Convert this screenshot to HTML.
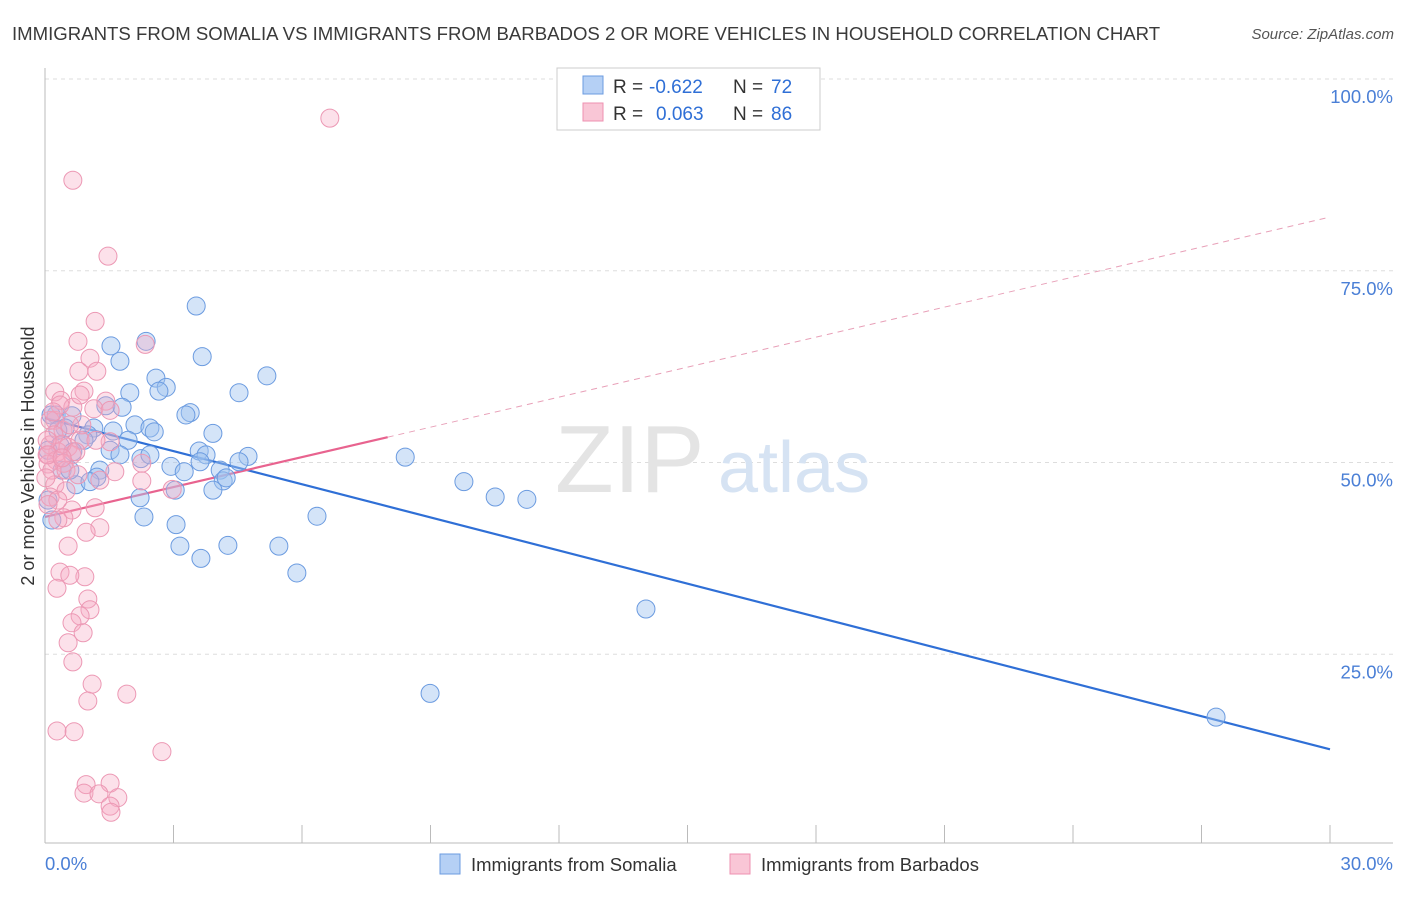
<!DOCTYPE html>
<html><head><meta charset="utf-8">
<style>
body{margin:0;background:#fff;font-family:"Liberation Sans",sans-serif;}
svg text{font-family:"Liberation Sans",sans-serif;}
</style></head>
<body>
<svg id="chart" width="1406" height="892" viewBox="0 0 1406 892" xmlns="http://www.w3.org/2000/svg">
<text x="12" y="40" font-size="18.6" fill="#3a3a3a">IMMIGRANTS FROM SOMALIA VS IMMIGRANTS FROM BARBADOS 2 OR MORE VEHICLES IN HOUSEHOLD CORRELATION CHART</text>
<text x="1394" y="39" font-size="15" fill="#555" font-style="italic" text-anchor="end">Source: ZipAtlas.com</text>
<g id="grid"></g>
<text x="555" y="492" font-size="96" fill="#e4e4e4" font-family="Liberation Serif" >ZIP</text>
<text x="718" y="492" font-size="72" fill="#d6e3f3">atlas</text>
<g id="axes"></g>
<g id="lines"></g>
<g id="pts"></g>
<text transform="translate(34,456) rotate(-90)" font-size="18" fill="#333" text-anchor="middle">2 or more Vehicles in Household</text>
<g>
<rect x="557" y="68" width="263" height="62" fill="#fff" stroke="#ccc"/>
<rect x="583" y="76" width="20" height="18" fill="#b5d0f5" stroke="#6b9be0"/>
<rect x="583" y="103" width="20" height="18" fill="#f9c6d6" stroke="#ee90b0"/>
<text x="613" y="93" font-size="19" fill="#333">R =</text>
<text x="649" y="93" font-size="19" fill="#2f6fd6">-0.622</text>
<text x="733" y="93" font-size="19" fill="#333">N =</text>
<text x="771" y="93" font-size="19" fill="#2f6fd6">72</text>
<text x="613" y="120" font-size="19" fill="#333">R =</text>
<text x="656" y="120" font-size="19" fill="#2f6fd6">0.063</text>
<text x="733" y="120" font-size="19" fill="#333">N =</text>
<text x="771" y="120" font-size="19" fill="#2f6fd6">86</text>
</g>
<g>
<rect x="440" y="854" width="20" height="20" fill="#b5d0f5" stroke="#6b9be0"/>
<text x="471" y="871" font-size="18.5" fill="#333">Immigrants from Somalia</text>
<rect x="730" y="854" width="20" height="20" fill="#f9c6d6" stroke="#ee90b0"/>
<text x="761" y="871" font-size="18.5" fill="#333">Immigrants from Barbados</text>
</g>
</svg>
<script>
const yTicks=[25,50,75,100];
const yTickLabels=["25.0%","50.0%","75.0%","100.0%"];
const xTicks=[0,3,6,9,12,15,18,21,24,27,30];
const somaliaX=[3.53,1.54,2.36,1.75,3.67,2.59,2.83,2.66,1.98,4.53,5.18,1.42,1.80,0.26,0.63,3.39,3.29,2.10,2.45,2.55,1.59,1.14,0.47,1.00,1.94,3.92,3.60,3.76,2.24,2.94,3.25,4.09,4.74,4.53,1.28,1.21,4.16,3.92,3.04,2.22,2.31,3.06,3.15,3.64,4.27,5.46,5.88,6.35,8.41,9.78,10.51,11.25,14.03,8.99,27.34,0.35,0.07,0.72,0.91,0.07,0.16,0.40,0.65,1.52,0.14,0.58,1.05,3.62,0.30,1.75,4.23,2.45];
const somaliaY=[70.4,65.2,65.8,63.2,63.8,61.0,59.8,59.3,59.1,59.1,61.3,57.4,57.2,56.2,56.1,56.5,56.2,54.9,54.5,54.0,54.1,54.5,54.5,53.6,52.9,53.8,51.5,51.0,50.5,49.5,48.8,49.0,50.8,50.1,49.0,48.1,47.6,46.4,46.4,45.4,42.9,41.9,39.1,37.5,39.2,39.1,35.6,43.0,50.7,47.5,45.5,45.2,30.9,19.9,16.8,52.2,51.6,47.1,52.9,45.1,42.5,49.0,51.4,51.6,56.2,49.0,47.5,50.1,54.2,51.0,48.0,51.0];
const barbadosX=[6.65,0.65,1.47,1.17,0.77,2.34,1.05,1.21,0.79,0.91,0.23,0.37,1.42,0.65,1.14,0.23,0.42,0.82,1.52,0.12,0.54,0.30,0.05,0.63,0.26,0.07,0.44,2.26,1.63,2.26,2.97,1.28,0.23,0.49,0.12,0.63,1.17,0.44,1.28,0.96,0.54,0.35,0.93,0.58,0.28,1.00,1.05,0.82,0.63,0.89,0.54,0.65,1.10,1.00,1.91,0.28,0.68,2.73,0.96,1.52,0.91,1.26,1.70,1.52,1.54,0.35,0.12,0.21,0.40,0.72,0.16,0.02,0.30,0.82,0.05,0.49,0.86,0.19,0.07,0.40,0.77,1.19,0.30,0.07,1.52,0.58];
const barbadosY=[94.9,86.8,76.9,68.4,65.8,65.4,63.6,61.9,61.9,59.3,59.2,58.1,58.0,57.2,57.0,55.5,54.2,52.9,52.7,52.3,52.0,51.4,51.0,51.0,50.3,49.8,49.9,49.9,48.8,47.6,46.5,47.7,47.1,46.3,45.5,43.8,44.1,42.8,41.5,40.9,39.1,35.7,35.1,35.3,33.6,32.2,30.8,30.0,29.1,27.8,26.5,24.0,21.1,18.9,19.8,15.0,14.9,12.3,8.0,8.2,6.9,6.8,6.3,5.2,4.4,57.5,55.5,53.6,52.4,51.4,49.0,48.0,45.1,58.8,52.9,49.0,54.9,56.6,51.0,50.6,48.4,52.9,42.5,44.5,56.8,54.9];
const somaliaTrend=[55.8,12.6];
const barbadosTrend=[42.9,53.3,82.0];
const barbadosSolidEnd=8.0;

const NS="http://www.w3.org/2000/svg";
const X=v=>45+v/30*1285;
const Y=v=>846-v/100*767;
function mk(tag,attrs,parent){const e=document.createElementNS(NS,tag);for(const k in attrs)e.setAttribute(k,attrs[k]);parent.appendChild(e);return e;}
const grid=document.getElementById('grid'),axes=document.getElementById('axes'),lines=document.getElementById('lines'),pts=document.getElementById('pts');
yTicks.forEach((t,i)=>{
  const l=mk('line',{x1:45,x2:1393,y1:Y(t),y2:Y(t),stroke:'#ddd','stroke-dasharray':'4,4'},grid);
  
  
  const tx=mk('text',{x:1393,y:Y(t)+24,'font-size':18.5,fill:'#4a7fd6','text-anchor':'end'},axes);
  tx.textContent=yTickLabels[i];
  
  
});
let a=mk('line',{x1:45,x2:45,y1:68,y2:843,stroke:'#bbb'},axes);


a=mk('line',{x1:45,x2:1393,y1:843,y2:843,stroke:'#bbb'},axes);


xTicks.forEach(t=>{
  const l=mk('line',{x1:X(t),x2:X(t),y1:825,y2:843,stroke:'#bbb'},axes);
  
  
});
let t0=mk('text',{x:45,y:870,'font-size':18.5,fill:'#4a7fd6'},axes);t0.textContent='0.0%';


let t1=mk('text',{x:1393,y:870,'font-size':18.5,fill:'#4a7fd6','text-anchor':'end'},axes);t1.textContent='30.0%';



somaliaX.forEach((x,i)=>{
  const c=mk('circle',{cx:X(x),cy:Y(somaliaY[i]),r:9,fill:'rgba(160,196,240,0.45)',stroke:'#6b9be0','stroke-width':1},pts);
  
  
});
barbadosX.forEach((x,i)=>{
  const c=mk('circle',{cx:X(x),cy:Y(barbadosY[i]),r:9,fill:'rgba(246,170,195,0.35)',stroke:'#ec98b4','stroke-width':1},pts);
  
  
});
let l=mk('line',{x1:X(0),y1:Y(somaliaTrend[0]),x2:X(30),y2:Y(somaliaTrend[1]),stroke:'#2f6fd6','stroke-width':2.2},lines);


l=mk('line',{x1:X(0),y1:Y(barbadosTrend[0]),x2:X(barbadosSolidEnd),y2:Y(barbadosTrend[1]),stroke:'#e8638f','stroke-width':2.2},lines);


l=mk('line',{x1:X(barbadosSolidEnd),y1:Y(barbadosTrend[1]),x2:X(30),y2:Y(barbadosTrend[2]),stroke:'#e8a0b8','stroke-width':1,'stroke-dasharray':'6,5'},lines);


</script>
</body></html>
